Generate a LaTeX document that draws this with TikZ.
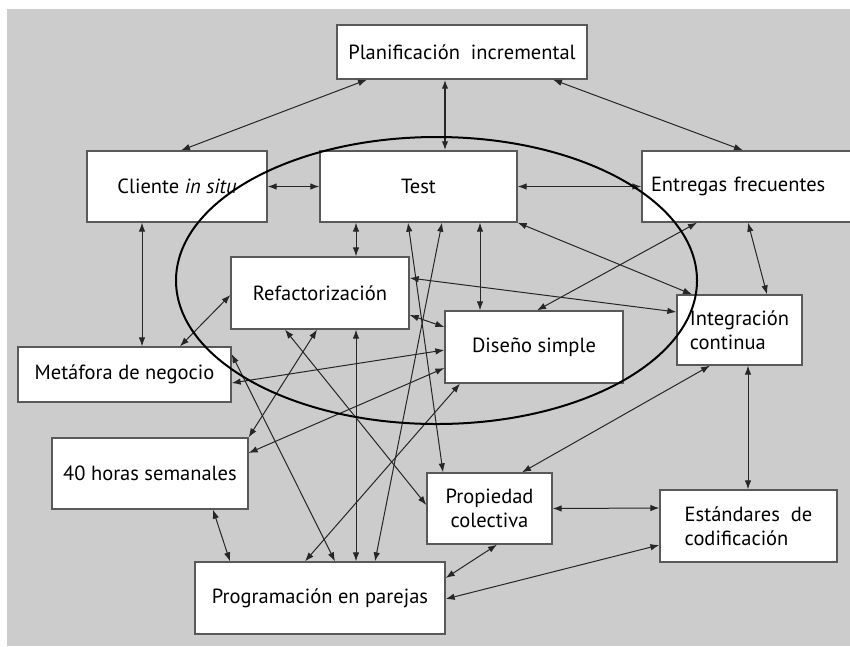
\documentclass[tikz,border=0pt]{standalone}
\usepackage{fontspec}
\setmainfont{PT Sans}
\usetikzlibrary{arrows.meta}

\begin{document}
\begin{tikzpicture}[x=1pt,y=-1pt,font=\fontsize{20.5}{24}\selectfont,>={Latex[length=9pt,width=6.5pt]},
 box/.style={draw=black!65,line width=1.3pt,fill=white,inner sep=0pt,align=center},
 link/.style={<->,line width=1pt,black!85}]
\useasboundingbox (0,0) rectangle (850,646);
\fill[black!20] (7,9) rectangle (850,646);

% practicas
\node[box,minimum width=250pt,minimum height=54pt] (plan) at (462,52) {Planificación~~incremental};
\node[box,minimum width=180pt,minimum height=71pt] (cliente) at (177,186.5) {Cliente \textit{in situ}};
\node[box,minimum width=197pt,minimum height=71pt] (test) at (418.5,186.5) {Test};
\node[box,minimum height=71pt,text width=192pt,align=left,inner xsep=9pt] (entregas) at (747,186.5) {Entregas frecuentes};
\node[box,minimum width=178pt,minimum height=72pt] (refac) at (320,293) {Refactorización};
\node[box,minimum width=178pt,minimum height=72pt] (diseno) at (534,347) {Diseño simple};
\node[box,minimum width=125pt,minimum height=70pt,align=left] (integ) at (739.5,330) {Integración\\continua};
\node[box,minimum width=213pt,minimum height=55pt] (metafora) at (124.5,374.5) {Metáfora de negocio};
\node[box,minimum width=196pt,minimum height=71pt] (horas) at (150,473.5) {40 horas semanales};
\node[box,minimum width=125pt,minimum height=71pt] (prop) at (489.5,508.5) {Propiedad\\colectiva};
\node[box,minimum width=177pt,minimum height=72pt,align=left] (estandares) at (748.5,526) {Estándares~~de\\codificación};
\node[box,minimum width=250pt,minimum height=72pt] (prog) at (320,598) {Programación en parejas};

% relaciones
\draw[link] ([xshift=-95pt]plan.south) -- ([xshift=4pt]cliente.north);
\draw[link,line width=2pt] ([xshift=-17pt]plan.south) -- ([xshift=26.5pt]test.north);
\draw[link] ([xshift=91pt]plan.south) -- ([xshift=-4pt]entregas.north);
\draw[link] (cliente.east) -- (test.west);
\draw[link] (test.east) -- (entregas.west);
\draw[link] ([xshift=-35pt]cliente.south) -- ([xshift=17.5pt]metafora.north);
\draw[link] ([xshift=-62.5pt]test.south) -- ([xshift=36pt]refac.north);
\draw[link] ([xshift=61.5pt]test.south) -- ([xshift=-54pt]diseno.north);
\draw[link] (test.south east) -- ([xshift=-47.5pt]integ.north);
\draw[link] ([xshift=-50pt]entregas.south) -- ([xshift=3pt]diseno.north);
\draw[link] ([xshift=1pt]entregas.south) -- ([xshift=27.5pt]integ.north);
\draw[link] ([yshift=15pt]refac.east) -- ([yshift=18pt]integ.west);
\draw[link] ([yshift=-22pt]refac.east) -- ([yshift=20pt]diseno.west);
\draw[link] ([xshift=55.5pt]metafora.north) -- ([yshift=-2pt]refac.west);
\draw[link] ([yshift=-8.5pt]metafora.east) -- ([yshift=-3pt]diseno.west);
\draw[link] (horas.north east) -- ([xshift=-3pt]refac.south);
\draw[link] ([yshift=20.5pt]horas.east) -- ([yshift=-21pt]diseno.west);
\draw[link] ([xshift=63pt]horas.south) -- ([xshift=-90pt]prog.north);
\draw[link] ([yshift=20.5pt]metafora.east) -- ([xshift=15pt]prog.north);
\draw[link] ([xshift=36pt]refac.south) -- ([xshift=36pt]prog.north);
\draw[link] ([xshift=23.5pt]test.south) -- ([xshift=55pt]prog.north);
\draw[link] ([xshift=-74pt]diseno.south) -- ([xshift=-15pt]prog.north);
\draw[link] ([xshift=-35pt]refac.south) -- ([yshift=3.5pt]prop.west);
\draw[link] ([xshift=-10.5pt]test.south) -- ([xshift=-46.5pt]prop.north);
\draw[link] ([xshift=-29.5pt]integ.south) -- ([xshift=32.5pt]prop.north);
\draw[link] ([xshift=8.5pt]integ.south) -- ([xshift=-0.5pt]estandares.north);
\draw[link] (prop.east) -- ([yshift=18pt]estandares.west);
\draw[link] ([xshift=7.5pt]prop.south) -- ([yshift=20pt]prog.east);
\draw[link] ([yshift=-19pt]estandares.west) -- ([yshift=-1pt]prog.east);

% nucleo de practicas
\draw[line width=2pt] (436.5,280.5) ellipse [x radius=260.5, y radius=143.5];
\end{tikzpicture}
\end{document}
